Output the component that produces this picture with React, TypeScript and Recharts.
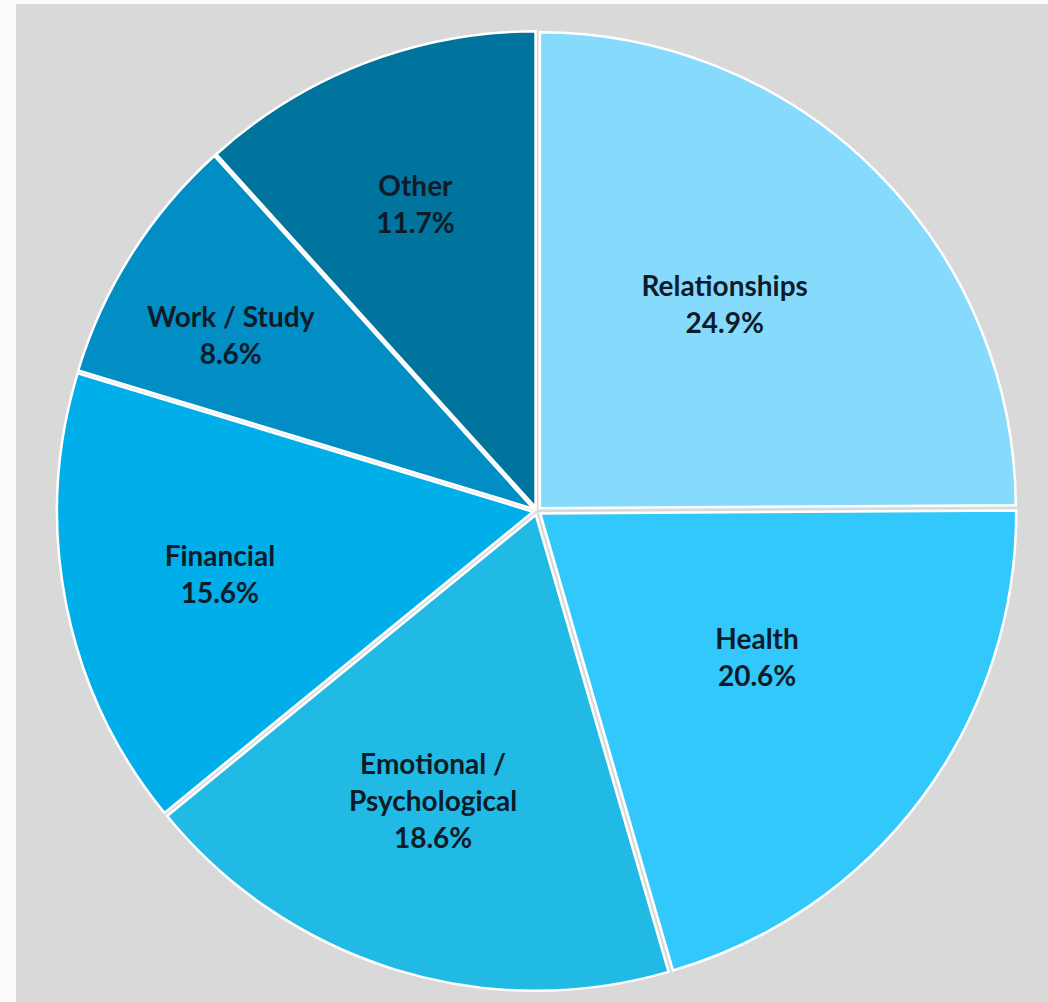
import React from "react";
import { PieChart, Pie, Cell, Sector } from "recharts";

const categories = ["Relationships", "Health", "Emotional /\nPsychological", "Financial", "Work / Study", "Other"];
const shares = [24.9, 20.6, 18.6, 15.6, 8.6, 11.7];
const colors = ["#86dbfc", "#33c8fb", "#21bae5", "#00aeea", "#008ec4", "#01749e"];
const labelRadiusFrac = [0.588, 0.554, 0.645, 0.679, 0.743, 0.695];
const labelAngleShift = [2.7, 3.3, -2.5, 0, 2.4, 0.5];

const data = categories.map((name, i) => ({ name, value: shares[i] }));

const RAD = Math.PI / 180;
const EXPLODE = 4;

const renderShape = (props: any) => {
  const { cx, cy, midAngle } = props;
  const dx = EXPLODE * Math.cos(-midAngle * RAD);
  const dy = EXPLODE * Math.sin(-midAngle * RAD);
  return <Sector {...props} cx={cx + dx} cy={cy + dy} />;
};

const renderLabel = (props: any) => {
  const { cx, cy, midAngle, outerRadius, index } = props;
  const r = outerRadius * labelRadiusFrac[index];
  const a = midAngle + labelAngleShift[index];
  const x = cx + r * Math.cos(-a * RAD);
  const y = cy + r * Math.sin(-a * RAD);
  const lines = [...categories[index].split("\n"), `${shares[index].toFixed(1)}%`];
  const lh = 37;
  const y0 = y - ((lines.length - 1) * lh) / 2;
  return (
    <text
      x={x}
      y={y0}
      textAnchor="middle"
      dominantBaseline="central"
      fill="#0e1b28"
      fontFamily="Lato, 'Open Sans', sans-serif"
      fontWeight={700}
      fontSize={28}
    >
      {lines.map((l, i) => (
        <tspan key={i} x={x} y={y0 + i * lh}>
          {l}
        </tspan>
      ))}
    </text>
  );
};

export default function App() {
  return (
    <div style={{ position: "absolute", left: 0, top: 0, width: 1048, height: 1002, background: "#fbfbfb", overflow: "hidden" }}>
      <div style={{ position: "absolute", left: 16, top: 4, width: 1032, height: 998, background: "#d9d9d9" }}>
        <PieChart width={1032} height={998}>
          <Pie
            data={data}
            dataKey="value"
            nameKey="name"
            cx={516}
            cy={502}
            outerRadius={476}
            startAngle={90}
            endAngle={-270}
            stroke="#ffffff"
            strokeWidth={2.5}
            labelLine={false}
            label={renderLabel}
            shape={renderShape}
            isAnimationActive={false}
          >
            {data.map((d, i) => (
              <Cell key={d.name} fill={colors[i]} />
            ))}
          </Pie>
        </PieChart>
      </div>
    </div>
  );
}
